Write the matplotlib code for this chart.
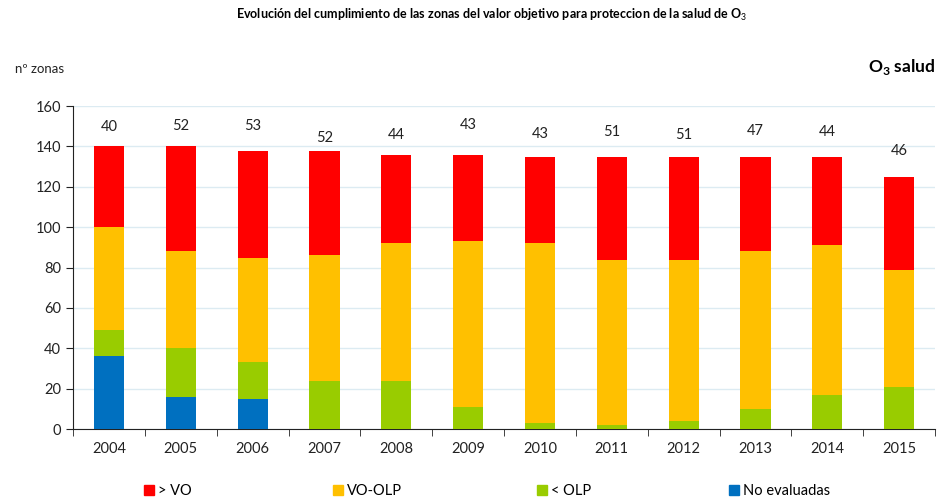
import matplotlib
matplotlib.use("Agg")
import matplotlib.pyplot as plt
import matplotlib.patches as mpatches
import numpy as np

plt.rcParams["font.family"] = ["Lato", "DejaVu Sans"]
plt.rcParams["mathtext.fontset"] = "custom"
plt.rcParams["mathtext.rm"] = "Lato"
plt.rcParams["mathtext.bf"] = "Lato:bold"

# datos (nº de zonas)
years = ["2004", "2005", "2006", "2007", "2008", "2009",
         "2010", "2011", "2012", "2013", "2014", "2015"]
no_evaluadas = [36, 16, 15, 0, 0, 0, 0, 0, 0, 0, 0, 0]
menor_olp = [13, 24, 18, 24, 24, 11, 3, 2, 4, 10, 17, 21]
vo_olp = [51, 48, 52, 62, 68, 82, 89, 82, 80, 78, 74, 58]
mayor_vo = [40, 52, 53, 52, 44, 43, 43, 51, 51, 47, 44, 46]
# altura de las etiquetas de > VO
label_y = [149.6, 150, 150, 144, 145.6, 150.6, 146, 147, 145.6, 147.6, 147, 137.7]

series = [
    ("No evaluadas", no_evaluadas, "#0070C0"),
    ("< OLP", menor_olp, "#99CC00"),
    ("VO-OLP", vo_olp, "#FFC000"),
    ("> VO", mayor_vo, "#FF0000"),
]

fig = plt.figure(figsize=(9.4, 5.03), dpi=100)
ax = fig.add_axes([0.0777, 0.147, 0.917, 0.642])

x = np.arange(len(years))
bottom = np.zeros(len(years))
for name, vals, color in series:
    ax.bar(x, vals, width=0.42, bottom=bottom, color=color, zorder=3)
    bottom += np.array(vals)

for xi, v, ly in zip(x, mayor_vo, label_y):
    ax.text(xi, ly, str(v), ha="center", va="center", fontsize=10.5, color="#222222")

ax.set_xlim(-0.5, len(years) - 0.5)
ax.set_ylim(0, 160)
ax.set_yticks(np.arange(0, 161, 20))
ax.tick_params(axis="y", labelsize=10.5, length=5, direction="out", colors="#222222")
ax.set_xticks(x)
ax.set_xticklabels(years)
ax.set_xticks(np.arange(-0.5, len(years), 1), minor=True)
ax.tick_params(axis="x", which="major", length=0, labelsize=10.5, pad=9, colors="#222222")
ax.tick_params(axis="x", which="minor", length=5, direction="out", color="#222222")
ax.grid(axis="y", color="#DCEBF2", linewidth=1, zorder=0)
for s in ["top", "right"]:
    ax.spines[s].set_visible(False)
ax.spines["left"].set_color("#222222")
ax.spines["bottom"].set_color("#222222")

fig.text(0.523, 0.97, "Evolución del cumplimiento de las zonas del valor objetivo para proteccion de la salud de O$_3$",
         ha="center", va="center", fontsize=9, fontweight="bold")
fig.text(0.016, 0.862, "nº zonas", ha="left", va="center", fontsize=9.5, color="#222222")
fig.text(0.995, 0.866, r"O$_\mathbf{3}$ salud", ha="right", va="center", fontsize=12.5, fontweight="bold")

# leyenda
legend_items = [("> VO", "#FF0000", 0.153), ("VO-OLP", "#FFC000", 0.354),
                ("< OLP", "#99CC00", 0.571), ("No evaluadas", "#0070C0", 0.775)]
for name, color, lx in legend_items:
    h = mpatches.Patch(color=color, label=name)
    leg = fig.legend(handles=[h], loc="center left", bbox_to_anchor=(lx, 0.024), frameon=False,
                     fontsize=10.5, handlelength=0.7, handleheight=0.7, handletextpad=0.3,
                     borderpad=0, borderaxespad=0)

fig.savefig("out.png", dpi=100)
